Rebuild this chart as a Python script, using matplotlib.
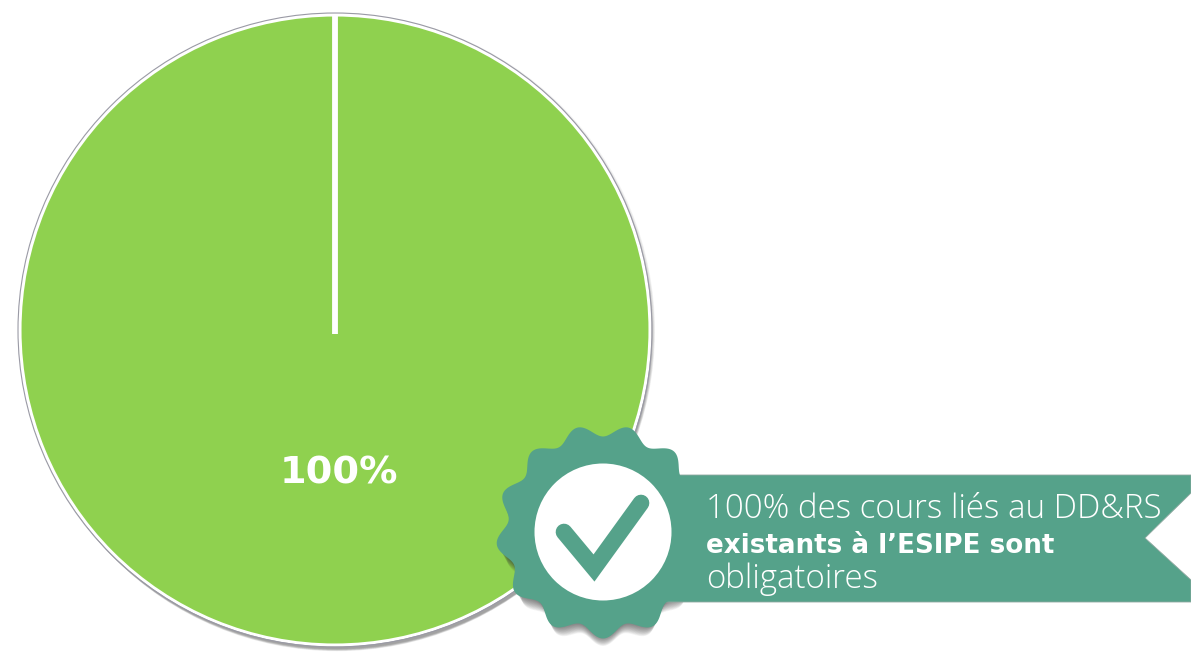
from matplotlib import pyplot as plt
from matplotlib.patches import Circle, Polygon

import numpy as np

pie_values = [100]
pie_labels = ['100%']
banner_lines = ['100% des cours liés au DD&RS', 'existants à l’ESIPE sont', 'obligatoires']

GREEN = '#8fd14f'
TEAL = '#55a28a'


def badge_outline(cx, cy, r, bump, n=13):
    # scalloped seal, one lobe pointing straight down
    t = np.linspace(0, 2 * np.pi, 400)
    rad = r + bump * np.cos(n * t)
    return np.column_stack([cx + rad * np.sin(t), cy + rad * np.cos(t)])


fig = plt.figure(figsize=(11.91, 6.53), dpi=100)
ax = fig.add_axes([0, 0, 1, 1])

# soft shadow under the pie
for i in range(12):
    ax.add_patch(Circle((337, 331 + i * 0.6), 318 - i * 0.4, color='#444444', alpha=0.05, lw=0, zorder=1))

wedges, _ = ax.pie(pie_values, center=(335, 330), radius=315, startangle=90, colors=[GREEN],
                   wedgeprops={'edgecolor': 'white', 'linewidth': 2.2})
for w in wedges:
    w.set_zorder(2)
ax.add_patch(Circle((335, 330), 317, fill=False, edgecolor='#9a9aa5', lw=0.8, zorder=3))

# slice boundary
ax.plot([335, 335], [14, 334], color='white', lw=4.2, solid_capstyle='butt', zorder=4)

ax.text(339, 473, pie_labels[0], color='white', fontsize=27.5, fontweight='bold', family='DejaVu Sans',
        ha='center', va='center', zorder=4)

# badge shadow goes under the banner, badge itself merges into it
for i in range(16):
    ax.add_patch(Polygon(badge_outline(603, 532 + i * 1.2, 100 - i * 0.6, 5), closed=True,
                         facecolor='#333333', alpha=0.05, lw=0, zorder=4))

banner = [(640, 475), (1191, 475), (1191, 493), (1145, 538), (1191, 580), (1191, 602), (640, 602)]
ax.add_patch(Polygon(banner, closed=True, facecolor=TEAL, edgecolor='#8fa8a0', lw=0.6, zorder=5))

ax.add_patch(Polygon(badge_outline(603, 531.5, 101, 6), closed=True, facecolor=TEAL, lw=0, zorder=6))
ax.add_patch(Circle((603, 532), 68.5, color='white', lw=0, zorder=7))
ax.plot([564, 594, 641], [532, 568, 503], color=TEAL, lw=12, solid_capstyle='round',
        solid_joinstyle='miter', zorder=8)

ax.text(706, 518, banner_lines[0], color='white', fontsize=23.8, family='Open Sans', fontweight='light',
        ha='left', va='baseline', zorder=8)
ax.text(706, 553, banner_lines[1], color='white', fontsize=18.8, family='DejaVu Sans', fontweight='bold',
        ha='left', va='baseline', zorder=8)
ax.text(706, 588, banner_lines[2], color='white', fontsize=23.8, family='Open Sans', fontweight='light',
        ha='left', va='baseline', zorder=8)

ax.set_xlim(0, 1191)
ax.set_ylim(653, 0)
ax.set_aspect('auto')
ax.axis('off')

fig.savefig('out.png', dpi=100, facecolor='white')
